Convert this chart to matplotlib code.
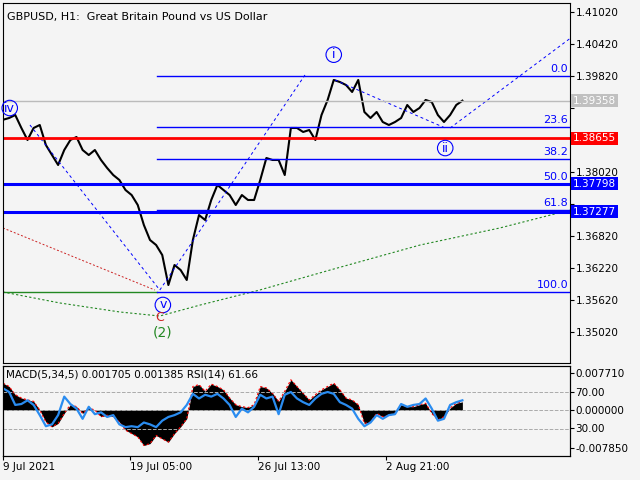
import matplotlib
matplotlib.use('Agg')
import matplotlib.pyplot as plt
import numpy as np

# close prices, one point per ~6 px of the reference
close = [1.39000, 1.39033, 1.39089, 1.38846, 1.38621, 1.38846, 1.38902, 1.38527, 1.38339, 1.38152,
         1.38433, 1.38621, 1.38677, 1.38433, 1.38339, 1.38433, 1.38246, 1.38096, 1.37964, 1.37871,
         1.37683, 1.37589, 1.37402, 1.37027, 1.36746, 1.36652, 1.36464, 1.35902, 1.36277, 1.36183,
         1.35996, 1.36746, 1.37214, 1.37121, 1.37496, 1.37777, 1.37683, 1.37589, 1.37402, 1.37589,
         1.37496, 1.37496, 1.37871, 1.38283, 1.38246, 1.38246, 1.37964, 1.38846, 1.38846, 1.38771,
         1.38808, 1.38621, 1.39089, 1.39371, 1.39746, 1.39708, 1.39652, 1.39521, 1.39746, 1.39146,
         1.39033, 1.39146, 1.38958, 1.38902, 1.38958, 1.39033, 1.39277, 1.39146, 1.39221, 1.39371,
         1.39333, 1.39089, 1.38958, 1.39089, 1.39277, 1.39358]
macd = [0.0056, 0.0049, 0.0032, 0.0025, 0.0021, 0.0018, 0.0, -0.0025, -0.0035, -0.0028,
        -0.0007, 0.0011, 0.0007, -0.0007, 0.0004, 0.0, -0.0014, -0.0011, -0.0014, -0.0025,
        -0.0042, -0.0049, -0.0056, -0.0074, -0.0070, -0.0053, -0.0060, -0.0067, -0.0049, -0.0035,
        -0.0018, 0.0049, 0.0053, 0.0039, 0.0054, 0.0049, 0.0042, 0.0025, 0.0011, 0.0007,
        0.0005, 0.0011, 0.0049, 0.0046, 0.0035, 0.0018, 0.0039, 0.0063, 0.0049, 0.0035,
        0.0021, 0.0032, 0.0042, 0.0049, 0.0056, 0.0042, 0.0025, 0.0021, 0.0011, -0.0028,
        -0.0025, -0.0007, -0.0014, -0.0011, -0.0007, 0.0011, 0.0007, 0.0007, 0.0011, 0.0014,
        -0.0007, -0.0021, -0.0014, 0.0004, 0.0014, 0.0017]
rsi = [74, 70, 56, 57, 61, 56, 45, 33, 35, 45, 65, 57, 52, 41, 54, 46, 48, 43, 45, 35,
       32, 33, 32, 37, 35, 32, 39, 43, 45, 48, 56, 68, 63, 67, 65, 68, 63, 56, 43, 52,
       48, 54, 67, 63, 65, 46, 67, 70, 63, 59, 56, 63, 68, 70, 68, 59, 56, 52, 41, 33,
       37, 45, 41, 45, 46, 57, 54, 56, 57, 63, 52, 39, 41, 56, 59, 61]

fib_names = ['0.0', '23.6', '38.2', '50.0', '61.8', '100.0']
fib_prices = [1.39820, 1.38864, 1.38273, 1.37795, 1.37317, 1.35770]
price_ticks = [1.41020, 1.40420, 1.39820, 1.39220, 1.38620, 1.38020, 1.37420, 1.36820, 1.36220, 1.35620, 1.35020]
hidden_ticks = [1.39220, 1.38620, 1.37420]
date_pos = [0, 20.7, 41.6, 62.5]
date_labels = ['9 Jul 2021', '19 Jul 05:00', '26 Jul 13:00', '2 Aug 21:00']

BG = '#f4f4f4'
BLUE = '#0000ff'
plt.rcParams['font.family'] = 'DejaVu Sans'
fig = plt.figure(figsize=(6.4, 4.8), dpi=100, facecolor=BG)
ax = fig.add_axes([3/640, 1-363/480, 567/640, 360/480], facecolor=BG)
mx = fig.add_axes([3/640, 1-456/480, 567/640, 90/480], facecolor=BG)
xmax = (570-3)/6.125
x = np.arange(len(close))

ax.set_xlim(0, xmax)
ax.set_ylim(1.34440, 1.41189)
ax.yaxis.tick_right()
ax.tick_params(axis='y', labelsize=7.5, length=3, pad=1)
ax.tick_params(axis='x', bottom=False, labelbottom=False)
ax.set_yticks(price_ticks)
ax.set_yticklabels(['' if t in hidden_ticks else f'{t:.5f}' for t in price_ticks])

# analyst lines
ax.plot(x, close, color='black', lw=1.5)
ax.plot([4.4, 25.6], [1.38902, 1.35808], color=BLUE, ls=(0, (3, 3)), lw=0.7)
ax.plot([25.6, 49.3], [1.35808, 1.39839], color=BLUE, ls=(0, (3, 3)), lw=0.7)
ax.plot([54.2, 72.2], [1.39746, 1.38846], color=BLUE, ls=(0, (3, 3)), lw=0.7)
ax.plot([73.0, 99.9], [1.38846, 1.41152], color=BLUE, ls=(0, (3, 3)), lw=0.7)
ax.plot([0, 24.8], [1.36971, 1.35808], color='#cc2222', ls=(0, (2, 2)), lw=0.7)
gx = [0, 9.3, 19.1, 25.6, 32.2, 41.9, 53.4, 68.1, 81.1, 92.6]
gy = [1.35771, 1.35565, 1.35396, 1.35321, 1.35527, 1.35808, 1.36183, 1.36652, 1.36971, 1.37308]
ax.plot(gx, gy, color='#228822', ls=(0, (2, 2)), lw=0.8)
ax.plot([0, 25.1], [1.35771, 1.35771], color='#228822', lw=1)

for n, p in zip(fib_names, fib_prices):
    ax.plot([25.1, xmax], [p, p], color=BLUE, lw=1)
    ax.text(xmax-0.3, p+0.0003, n, color=BLUE, fontsize=8, ha='right', va='bottom')

ax.axhline(1.39358, color='#bbbbbb', lw=1)
ax.axhline(1.38655, color='#ff0000', lw=2)
ax.axhline(1.37798, color=BLUE, lw=2.2)
ax.axhline(1.37277, color=BLUE, lw=2.2)
for p, c in [(1.39358, '#c0c0c0'), (1.38655, '#ff0000'), (1.37798, BLUE), (1.37277, BLUE)]:
    ax.text(1.005, p, f'{p:.5f}', transform=ax.get_yaxis_transform(), color='white', fontsize=7.5,
            va='center', ha='left', bbox=dict(boxstyle='square,pad=0.15', fc=c, ec='none'))

circ = dict(boxstyle='circle,pad=0.1', fc='none', ec=BLUE, lw=0.8)
ax.text(1.1, 1.39220, 'iv', color=BLUE, fontsize=9, ha='center', va='center', bbox=circ)
ax.text(54.0, 1.40220, 'i', color=BLUE, fontsize=9, ha='center', va='center', bbox=circ)
ax.text(72.2, 1.38470, 'ii', color=BLUE, fontsize=9, ha='center', va='center', bbox=circ)
ax.text(26.1, 1.35528, 'v', color=BLUE, fontsize=9, ha='center', va='center', bbox=circ)
ax.text(25.6, 1.35290, 'C', color='#cc2222', fontsize=9, ha='center', va='center')
ax.text(26.1, 1.35020, '(2)', color='#228822', fontsize=10, ha='center', va='center')
ax.text(0.007, 0.975, 'GBPUSD, H1:  Great Britain Pound vs US Dollar', transform=ax.transAxes,
        fontsize=8, va='top')

# MACD / RSI panel
rx = mx.twinx()
mx.set_xlim(0, xmax)
mx.set_ylim(-0.00959, 0.00917)
rx.set_ylim(0.8, 98.1)
mx.fill_between(x, 0, macd, color='black', lw=0)
mx.plot(x, macd, color='red', ls=(0, (2, 2)), lw=0.8)
for lv in (30, 50, 70):
    rx.axhline(lv, color='#aaaaaa', ls='--', lw=0.7)
rx.plot(x, rsi, color='#2a8cf0', lw=1.6)
rx.set_yticks([0.8 + (v + 0.00959) / (0.00917 + 0.00959) * 97.3 for v in [0.00771, 0.00375, 0, -0.00375, -0.00785]])
rx.set_yticklabels(['0.007710', '70.00', '0.000000', '30.00', '-0.007850'])
rx.tick_params(axis='y', labelsize=7.5, length=3, pad=1)
mx.set_yticks([])
mx.text(0.005, 0.96, 'MACD(5,34,5) 0.001705 0.001385 RSI(14) 61.66', transform=mx.transAxes,
        fontsize=7.5, va='top', zorder=5)
mx.tick_params(axis='x', labelsize=7.5, length=3, pad=1)
mx.set_xticks(date_pos)
mx.set_xticklabels(date_labels, ha='left')

fig.savefig('out.png', dpi=100, facecolor=BG)
